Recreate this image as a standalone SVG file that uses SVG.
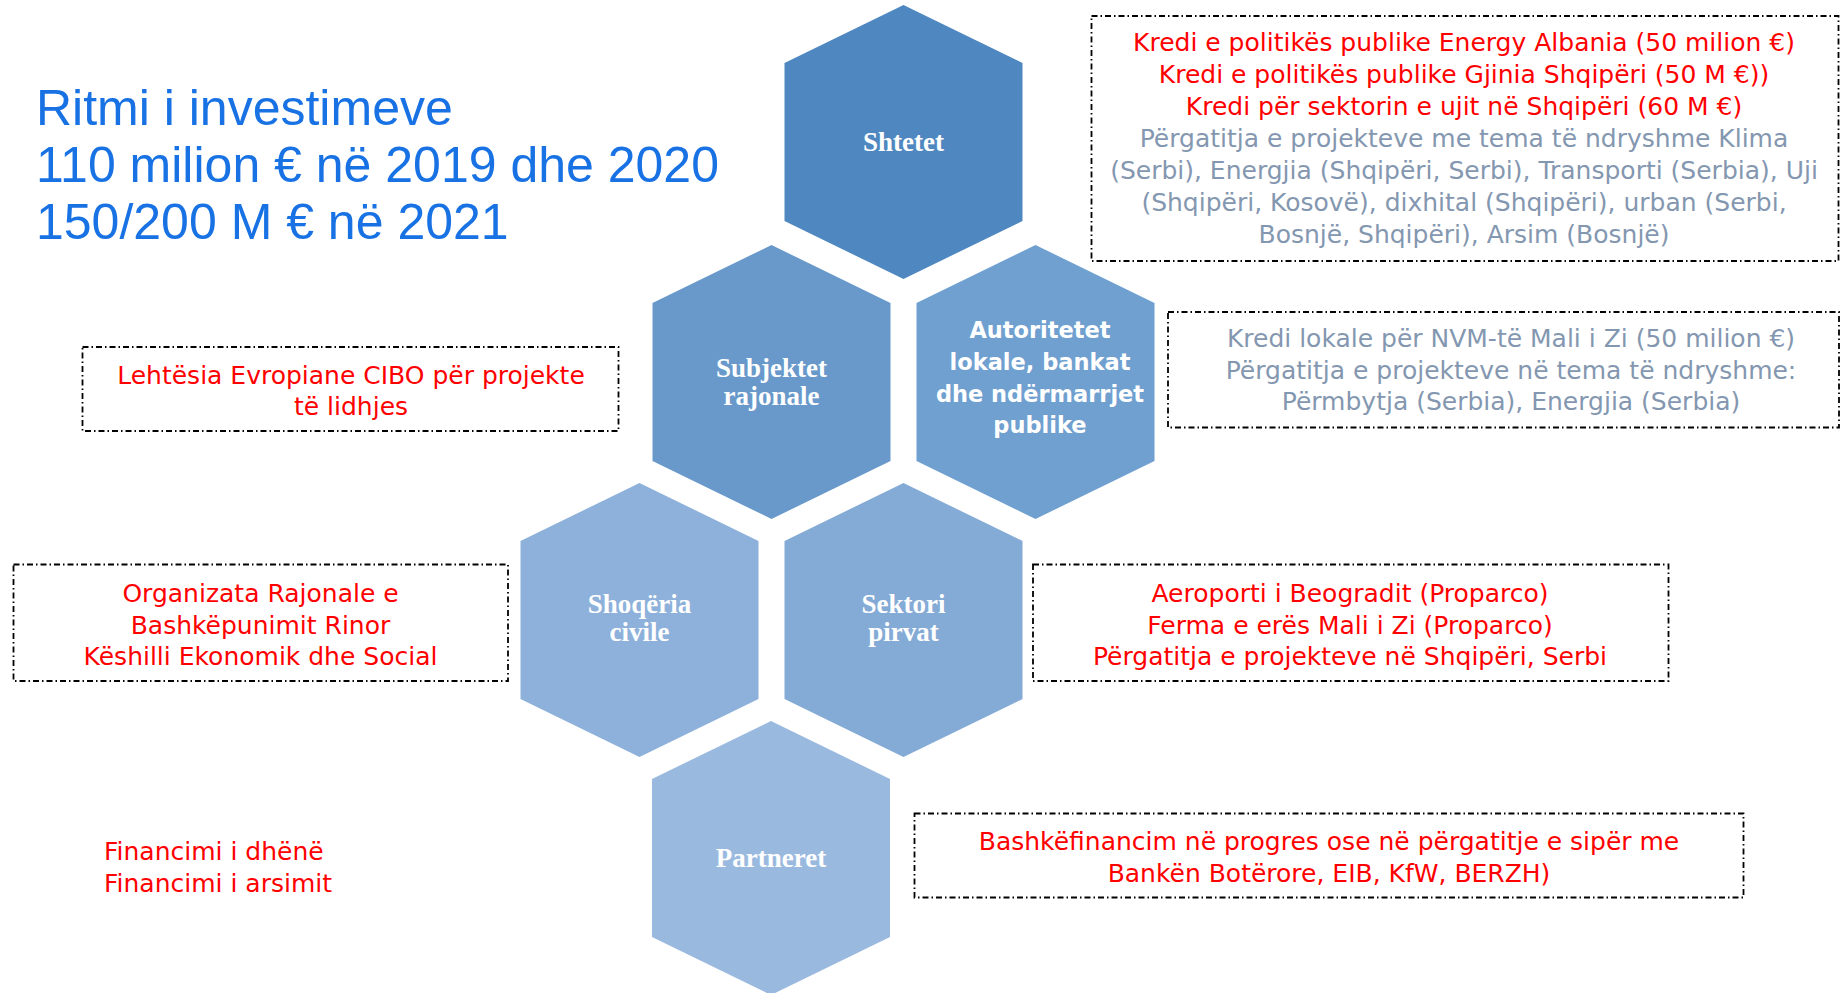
<svg xmlns="http://www.w3.org/2000/svg" width="1842" height="993" viewBox="0 0 1842 993">
<style>
.hexlbl{font-family:"Liberation Serif","Times New Roman",serif;font-weight:bold;font-size:27px;fill:#ffffff;text-anchor:middle}
.hexsans{font-family:"DejaVu Sans","Liberation Sans",sans-serif;font-weight:bold;font-size:22.5px;fill:#ffffff;text-anchor:middle}
.box{fill:none;stroke:#000000;stroke-width:1.8;stroke-dasharray:6 3 1.5 3}
.t{font-family:"DejaVu Sans","Liberation Sans",sans-serif;font-size:25px;text-anchor:middle}
.red{fill:#ff0000}
.gray{fill:#8497b0}
.title{font-family:"Liberation Sans",Arial,sans-serif;font-size:50px;fill:#1872e4}
</style>
<rect width="1842" height="993" fill="#ffffff"/>
<g id="title">
<text class="title" x="36" y="125">Ritmi i investimeve</text>
<text class="title" x="36" y="182">110 milion € në 2019 dhe 2020</text>
<text class="title" x="36" y="239">150/200 M € në 2021</text>
</g>
<g id="connectors"></g>
<g id="hex-shtetet">
<polygon points="903.5,5 1022.5,63 1022.5,221 903.5,279 784.5,221 784.5,63" fill="#4f88c0"/>
<text class="hexlbl" x="903.5" y="151">Shtetet</text>
</g>
<g id="hex-subjektet">
<polygon points="771.5,245 890.5,303 890.5,461 771.5,519 652.5,461 652.5,303" fill="#6899ca"/>
<text class="hexlbl" x="771.5" y="376.5">Subjektet</text>
<text class="hexlbl" x="771.5" y="404.5">rajonale</text>
</g>
<g id="hex-autoritetet">
<polygon points="1035.5,245 1154.5,303 1154.5,461 1035.5,519 916.5,461 916.5,303" fill="#6fa0d0"/>
<text class="hexsans" x="1040" y="338">Autoritetet</text>
<text class="hexsans" x="1040" y="370">lokale, bankat</text>
<text class="hexsans" x="1040" y="401.5">dhe ndërmarrjet</text>
<text class="hexsans" x="1040" y="433">publike</text>
</g>
<g id="hex-shoqeria">
<polygon points="639.5,483 758.5,541 758.5,699 639.5,757 520.5,699 520.5,541" fill="#8db1da"/>
<text class="hexlbl" x="639.5" y="613">Shoqëria</text>
<text class="hexlbl" x="639.5" y="641">civile</text>
</g>
<g id="hex-sektori">
<polygon points="903.5,483 1022.5,541 1022.5,699 903.5,757 784.5,699 784.5,541" fill="#84aad6"/>
<text class="hexlbl" x="903.5" y="613">Sektori</text>
<text class="hexlbl" x="903.5" y="641">pirvat</text>
</g>
<g id="hex-partneret">
<polygon points="771,721 890,779 890,937 771,995 652,937 652,779" fill="#9ab9df"/>
<text class="hexlbl" x="771" y="866.5">Partneret</text>
</g>
<g id="box-shtetet">
<rect class="box" x="1091.5" y="16" width="747" height="245"/>
<text class="t red" x="1464" y="51">Kredi e politikës publike Energy Albania (50 milion €)</text>
<text class="t red" x="1464" y="83">Kredi e politikës publike Gjinia Shqipëri (50 M €))</text>
<text class="t red" x="1464" y="115">Kredi për sektorin e ujit në Shqipëri (60 M €)</text>
<text class="t gray" x="1464" y="147">Përgatitja e projekteve me tema të ndryshme Klima</text>
<text class="t gray" x="1464" y="179">(Serbi), Energjia (Shqipëri, Serbi), Transporti (Serbia), Uji</text>
<text class="t gray" x="1464" y="211">(Shqipëri, Kosovë), dixhital (Shqipëri), urban (Serbi,</text>
<text class="t gray" x="1464" y="243">Bosnjë, Shqipëri), Arsim (Bosnjë)</text>
</g>
<g id="box-autoritetet">
<rect class="box" x="1168" y="312" width="671" height="115.5"/>
<text class="t gray" x="1511" y="347">Kredi lokale për NVM-të Mali i Zi (50 milion €)</text>
<text class="t gray" x="1511" y="378.5">Përgatitja e projekteve në tema të ndryshme:</text>
<text class="t gray" x="1511" y="410">Përmbytja (Serbia), Energjia (Serbia)</text>
</g>
<g id="box-subjektet">
<rect class="box" x="82.5" y="347" width="536" height="84"/>
<text class="t red" x="351" y="383.5">Lehtësia Evropiane CIBO për projekte</text>
<text class="t red" x="351" y="415">të lidhjes</text>
</g>
<g id="box-shoqeria">
<rect class="box" x="13.5" y="564.5" width="494.5" height="116.5"/>
<text class="t red" x="260.5" y="602">Organizata Rajonale e</text>
<text class="t red" x="260.5" y="633.5">Bashkëpunimit Rinor</text>
<text class="t red" x="260.5" y="665">Këshilli Ekonomik dhe Social</text>
</g>
<g id="box-sektori">
<rect class="box" x="1033" y="564.5" width="635.5" height="116.5"/>
<text class="t red" x="1350" y="602">Aeroporti i Beogradit (Proparco)</text>
<text class="t red" x="1350" y="633.5">Ferma e erës Mali i Zi (Proparco)</text>
<text class="t red" x="1350" y="665">Përgatitja e projekteve në Shqipëri, Serbi</text>
</g>
<g id="box-partneret">
<rect class="box" x="914.5" y="813.5" width="829" height="84"/>
<text class="t red" x="1329" y="850">Bashkëfinancim në progres ose në përgatitje e sipër me</text>
<text class="t red" x="1329" y="881.5">Bankën Botërore, EIB, KfW, BERZH)</text>
</g>
<g id="financimi">
<text class="t red" x="104" y="860" text-anchor="start" style="text-anchor:start">Financimi i dhënë</text>
<text class="t red" x="104" y="891.5" text-anchor="start" style="text-anchor:start">Financimi i arsimit</text>
</g>
</svg>
